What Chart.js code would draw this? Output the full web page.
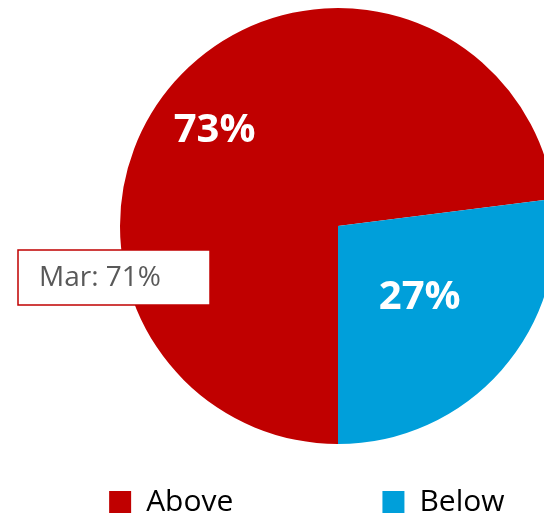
<!DOCTYPE html>
<html>
<head>
<meta charset="utf-8">
<script src="https://cdn.jsdelivr.net/npm/chart.js@4.4.1/dist/chart.umd.min.js"></script>
<style>
  html, body { margin: 0; padding: 0; background: #fff; overflow: hidden; }
  #wrap { position: relative; width: 544px; height: 519px; overflow: hidden; }
</style>
</head>
<body>
<div id="wrap"><canvas id="pieChart" width="676" height="527"></canvas></div>
<script>
// chart data
var categories = ['Above', 'Below'];
var shares = [73, 27];
var sliceColors = ['#C00000', '#009FDA'];
// previous month marker shown in the boxed note
var priorMonth = 'Mar';
var priorShare = 71;

// legend labels are padded with spaces to spread the two items apart
var legendPad = [14, 8];

// draws the percentage inside each slice and the boxed note
var pieLabels = {
    id: 'pieLabels',
    afterDatasetsDraw: function (chart) {
        var ctx = chart.ctx;
        var meta = chart.getDatasetMeta(0);
        var radiusFrac = [0.716, 0.5];
        var angleFrac = [0.486, 0.5];
        ctx.save();
        ctx.fillStyle = '#ffffff';
        ctx.font = 'bold 40px "Open Sans"';
        ctx.textAlign = 'center';
        ctx.textBaseline = 'middle';
        meta.data.forEach(function (arc, i) {
            var p = arc.getProps(['x', 'y', 'startAngle', 'endAngle', 'outerRadius'], true);
            var a = p.startAngle + (p.endAngle - p.startAngle) * angleFrac[i];
            var r = p.outerRadius * radiusFrac[i];
            ctx.fillText(shares[i] + '%', p.x + Math.cos(a) * r, p.y + Math.sin(a) * r);
        });

        // boxed note for the prior month
        ctx.fillStyle = '#ffffff';
        ctx.strokeStyle = '#C00000';
        ctx.lineWidth = 1.5;
        ctx.fillRect(18, 250, 192, 55);
        ctx.strokeRect(18, 250, 192, 55);
        ctx.fillStyle = '#595959';
        ctx.font = '28px "Open Sans"';
        ctx.textAlign = 'left';
        ctx.fillText(priorMonth + ': ' + priorShare + '%', 39, 278);
        ctx.restore();
    }
};

var ctxPie = document.getElementById('pieChart').getContext('2d');
var pieChart = new Chart(ctxPie, {
    type: 'pie',
    data: {
        labels: categories,
        datasets: [{
            data: shares,
            backgroundColor: sliceColors,
            borderWidth: 0,
            clip: false
        }]
    },
    options: {
        responsive: false,
        animation: false,
        devicePixelRatio: 1,
        rotation: 180,
        radius: 218,
        layout: { padding: { left: 0, top: 5, right: 0, bottom: 0 } },
        plugins: {
            tooltip: { enabled: false },
            legend: {
                position: 'bottom',
                labels: {
                    boxWidth: 22,
                    boxHeight: 22,
                    padding: 40,
                    color: '#595959',
                    font: { family: '"Open Sans"', size: 30 },
                    generateLabels: function (chart) {
                        return categories.map(function (c, i) {
                            return {
                                text: c + ' '.repeat(legendPad[i]),
                                fillStyle: sliceColors[i],
                                strokeStyle: sliceColors[i],
                                lineWidth: 0,
                                index: i
                            };
                        });
                    }
                }
            }
        }
    },
    plugins: [pieLabels]
});
</script>
</body>
</html>
